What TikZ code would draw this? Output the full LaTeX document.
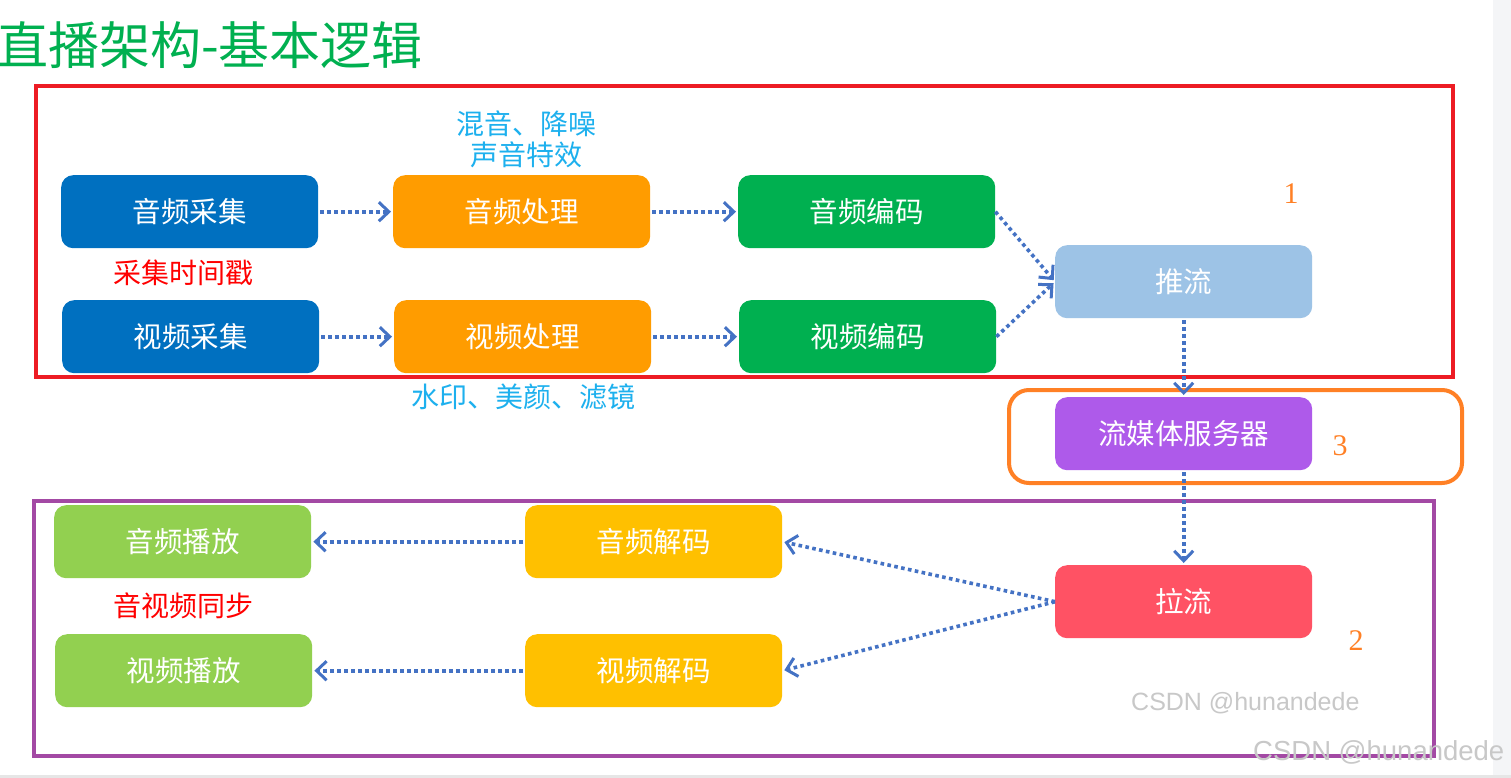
\documentclass[tikz,border=0pt]{standalone}
\usepackage{fontspec}
\setmainfont{Liberation Sans}
\newfontfamily\cjk{Noto Sans CJK SC}
\newfontfamily\numfont{Liberation Serif}
\usetikzlibrary{arrows.meta}
\definecolor{cBlue}{HTML}{0070C0}
\definecolor{cOrange}{HTML}{FF9C00}
\definecolor{cGreen}{HTML}{00B050}
\definecolor{cPush}{HTML}{9DC3E6}
\definecolor{cServer}{HTML}{AE5AEA}
\definecolor{cPull}{HTML}{FF5264}
\definecolor{cYellow}{HTML}{FFC000}
\definecolor{cLGreen}{HTML}{92D050}
\definecolor{cArrow}{HTML}{4472C4}
\definecolor{cRedBox}{HTML}{ED1C24}
\definecolor{cOrangeBox}{HTML}{FF8025}
\definecolor{cPurpleBox}{HTML}{A349A4}
\definecolor{cCyan}{HTML}{1DB0EE}
\definecolor{cWm}{HTML}{C8C8C8}
\definecolor{cStrip}{HTML}{F4F5F7}
\definecolor{cLine}{HTML}{E6E6E6}
\begin{document}
\begin{tikzpicture}[x=1pt,y=-1pt,
  box/.style={rounded corners=12pt,minimum width=257pt,minimum height=73pt,inner sep=0pt,
    text=white,font=\cjk\fontsize{28.5}{30}\selectfont,anchor=north west},
  conn/.style={draw=cArrow,line width=3.6pt,dash pattern=on 3.6pt off 3.4pt,
    -{Straight Barb[length=10pt,width=19pt,line width=3pt]}, shorten >=2pt, shorten <=2pt},
  lbl/.style={font=\cjk\fontsize{28}{34}\selectfont,inner sep=0pt,align=center},
  num/.style={font=\numfont\fontsize{30}{30}\selectfont,text=cOrangeBox,inner sep=0pt},
  wm/.style={font=\fontsize{25}{25}\selectfont,text=cWm,inner sep=0pt}]
\useasboundingbox (0,0) rectangle (1511,778);
\fill[white] (0,0) rectangle (1511,778);
\fill[cStrip] (1493,0) rectangle (1511,778);
\fill[cLine] (0,775) rectangle (1511,778);
% title
\node[anchor=west,inner sep=0pt,text=cGreen,font=\cjk\fontsize{51}{53}\selectfont] (title) at (-3,45) {直播架构-基本逻辑};
% frames
\draw[cRedBox,line width=4pt] (36,86) rectangle (1453,377);
\draw[cOrangeBox,line width=4pt,rounded corners=20pt] (1009,390) rectangle (1462,483);
\draw[cPurpleBox,line width=4pt] (34,501) rectangle (1434,756);
% nodes
\node[box,fill=cBlue] (aCap) at (61,175) {音频采集};
\node[box,fill=cOrange] (aProc) at (393,175) {音频处理};
\node[box,fill=cGreen] (aEnc) at (738,175) {音频编码};
\node[box,fill=cBlue] (vCap) at (62,300) {视频采集};
\node[box,fill=cOrange] (vProc) at (394,300) {视频处理};
\node[box,fill=cGreen] (vEnc) at (739,300) {视频编码};
\node[box,fill=cPush] (push) at (1055,245) {推流};
\node[box,fill=cServer] (server) at (1055,397) {流媒体服务器};
\node[box,fill=cPull] (pull) at (1055,565) {拉流};
\node[box,fill=cYellow] (aDec) at (525,505) {音频解码};
\node[box,fill=cYellow] (vDec) at (525,634) {视频解码};
\node[box,fill=cLGreen] (aPlay) at (54,505) {音频播放};
\node[box,fill=cLGreen] (vPlay) at (55,634) {视频播放};
% labels
\node[lbl,text=cCyan] (aNote) at (526,139) {混音、降噪\\[-3pt]声音特效};
\node[lbl,text=red] (tsNote) at (183,273) {采集时间戳};
\node[lbl,text=cCyan] (vNote) at (523,397) {水印、美颜、滤镜};
\node[lbl,text=red] (syncNote) at (183,606) {音视频同步};
\node[num] (n1) at (1291,194) {1};
\node[num] (n2) at (1356,641) {2};
\node[num] (n3) at (1340,446) {3};
% connectors
\draw[conn] (aCap.east) -- (aProc.west);
\draw[conn] (aProc.east) -- (aEnc.west);
\draw[conn] (vCap.east) -- (vProc.west);
\draw[conn] (vProc.east) -- (vEnc.west);
\draw[conn,shorten <=0pt] (aEnc.east) -- (push.west);
\draw[conn,shorten <=0pt] (vEnc.east) -- (push.west);
\draw[conn] (push.south) -- (server.north);
\draw[conn] (server.south) -- (pull.north);
\draw[conn,shorten <=0pt] (pull.west) -- (aDec.east);
\draw[conn,shorten <=0pt] (pull.west) -- (vDec.east);
\draw[conn] (aDec.west) -- (aPlay.east);
\draw[conn] (vDec.west) -- (vPlay.east);
% watermarks
\node[wm,anchor=west] (wm1) at (1131,703) {CSDN @hunandede};
\node[wm,anchor=west,font=\fontsize{27.5}{28}\selectfont] (wm2) at (1253,752) {CSDN @hunandede};
\end{tikzpicture}
\end{document}
